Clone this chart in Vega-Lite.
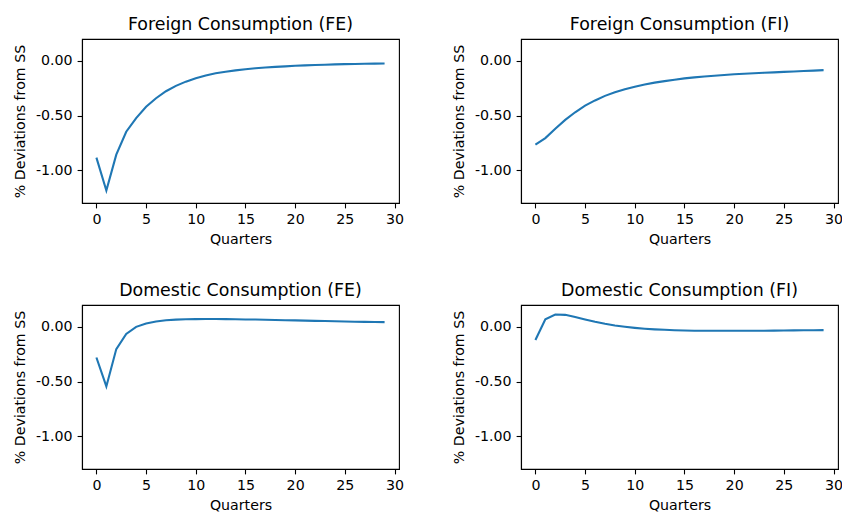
{
  "$schema": "https://vega.github.io/schema/vega-lite/v6.json",
  "background": "white",
  "padding": {"left": 12, "top": 15, "right": 5, "bottom": 5},
  "bounds": "flush",
  "columns": 2,
  "spacing": {"row": 102, "column": 122},
  "data": {"values": [
    {"series": "FFE", "q": 0, "v": -0.885}, {"series": "FFE", "q": 1, "v": -1.186}, {"series": "FFE", "q": 2, "v": -0.858}, {"series": "FFE", "q": 3, "v": -0.648}, {"series": "FFE", "q": 4, "v": -0.523}, {"series": "FFE", "q": 5, "v": -0.42}, {"series": "FFE", "q": 6, "v": -0.342}, {"series": "FFE", "q": 7, "v": -0.278}, {"series": "FFE", "q": 8, "v": -0.229}, {"series": "FFE", "q": 9, "v": -0.19}, {"series": "FFE", "q": 10, "v": -0.159}, {"series": "FFE", "q": 11, "v": -0.133}, {"series": "FFE", "q": 12, "v": -0.114}, {"series": "FFE", "q": 13, "v": -0.099}, {"series": "FFE", "q": 14, "v": -0.087}, {"series": "FFE", "q": 15, "v": -0.077}, {"series": "FFE", "q": 16, "v": -0.068}, {"series": "FFE", "q": 17, "v": -0.061}, {"series": "FFE", "q": 18, "v": -0.055}, {"series": "FFE", "q": 19, "v": -0.05}, {"series": "FFE", "q": 20, "v": -0.045}, {"series": "FFE", "q": 21, "v": -0.041}, {"series": "FFE", "q": 22, "v": -0.038}, {"series": "FFE", "q": 23, "v": -0.035}, {"series": "FFE", "q": 24, "v": -0.032}, {"series": "FFE", "q": 25, "v": -0.03}, {"series": "FFE", "q": 26, "v": -0.028}, {"series": "FFE", "q": 27, "v": -0.026}, {"series": "FFE", "q": 28, "v": -0.025}, {"series": "FFE", "q": 29, "v": -0.024},
    {"series": "FFI", "q": 0, "v": -0.766}, {"series": "FFI", "q": 1, "v": -0.706}, {"series": "FFI", "q": 2, "v": -0.62}, {"series": "FFI", "q": 3, "v": -0.54}, {"series": "FFI", "q": 4, "v": -0.47}, {"series": "FFI", "q": 5, "v": -0.41}, {"series": "FFI", "q": 6, "v": -0.362}, {"series": "FFI", "q": 7, "v": -0.32}, {"series": "FFI", "q": 8, "v": -0.288}, {"series": "FFI", "q": 9, "v": -0.26}, {"series": "FFI", "q": 10, "v": -0.236}, {"series": "FFI", "q": 11, "v": -0.216}, {"series": "FFI", "q": 12, "v": -0.199}, {"series": "FFI", "q": 13, "v": -0.185}, {"series": "FFI", "q": 14, "v": -0.172}, {"series": "FFI", "q": 15, "v": -0.16}, {"series": "FFI", "q": 16, "v": -0.151}, {"series": "FFI", "q": 17, "v": -0.143}, {"series": "FFI", "q": 18, "v": -0.136}, {"series": "FFI", "q": 19, "v": -0.129}, {"series": "FFI", "q": 20, "v": -0.123}, {"series": "FFI", "q": 21, "v": -0.118}, {"series": "FFI", "q": 22, "v": -0.113}, {"series": "FFI", "q": 23, "v": -0.109}, {"series": "FFI", "q": 24, "v": -0.105}, {"series": "FFI", "q": 25, "v": -0.101}, {"series": "FFI", "q": 26, "v": -0.097}, {"series": "FFI", "q": 27, "v": -0.093}, {"series": "FFI", "q": 28, "v": -0.089}, {"series": "FFI", "q": 29, "v": -0.085},
    {"series": "DFE", "q": 0, "v": -0.28}, {"series": "DFE", "q": 1, "v": -0.545}, {"series": "DFE", "q": 2, "v": -0.203}, {"series": "DFE", "q": 3, "v": -0.065}, {"series": "DFE", "q": 4, "v": 0.0}, {"series": "DFE", "q": 5, "v": 0.031}, {"series": "DFE", "q": 6, "v": 0.049}, {"series": "DFE", "q": 7, "v": 0.06}, {"series": "DFE", "q": 8, "v": 0.066}, {"series": "DFE", "q": 9, "v": 0.069}, {"series": "DFE", "q": 10, "v": 0.071}, {"series": "DFE", "q": 11, "v": 0.072}, {"series": "DFE", "q": 12, "v": 0.072}, {"series": "DFE", "q": 13, "v": 0.071}, {"series": "DFE", "q": 14, "v": 0.07}, {"series": "DFE", "q": 15, "v": 0.068}, {"series": "DFE", "q": 16, "v": 0.067}, {"series": "DFE", "q": 17, "v": 0.065}, {"series": "DFE", "q": 18, "v": 0.063}, {"series": "DFE", "q": 19, "v": 0.061}, {"series": "DFE", "q": 20, "v": 0.059}, {"series": "DFE", "q": 21, "v": 0.057}, {"series": "DFE", "q": 22, "v": 0.055}, {"series": "DFE", "q": 23, "v": 0.053}, {"series": "DFE", "q": 24, "v": 0.051}, {"series": "DFE", "q": 25, "v": 0.049}, {"series": "DFE", "q": 26, "v": 0.047}, {"series": "DFE", "q": 27, "v": 0.046}, {"series": "DFE", "q": 28, "v": 0.044}, {"series": "DFE", "q": 29, "v": 0.043},
    {"series": "DFI", "q": 0, "v": -0.12}, {"series": "DFI", "q": 1, "v": 0.07}, {"series": "DFI", "q": 2, "v": 0.113}, {"series": "DFI", "q": 3, "v": 0.11}, {"series": "DFI", "q": 4, "v": 0.09}, {"series": "DFI", "q": 5, "v": 0.067}, {"series": "DFI", "q": 6, "v": 0.046}, {"series": "DFI", "q": 7, "v": 0.028}, {"series": "DFI", "q": 8, "v": 0.013}, {"series": "DFI", "q": 9, "v": 0.001}, {"series": "DFI", "q": 10, "v": -0.009}, {"series": "DFI", "q": 11, "v": -0.017}, {"series": "DFI", "q": 12, "v": -0.023}, {"series": "DFI", "q": 13, "v": -0.027}, {"series": "DFI", "q": 14, "v": -0.031}, {"series": "DFI", "q": 15, "v": -0.033}, {"series": "DFI", "q": 16, "v": -0.035}, {"series": "DFI", "q": 17, "v": -0.036}, {"series": "DFI", "q": 18, "v": -0.036}, {"series": "DFI", "q": 19, "v": -0.036}, {"series": "DFI", "q": 20, "v": -0.036}, {"series": "DFI", "q": 21, "v": -0.036}, {"series": "DFI", "q": 22, "v": -0.035}, {"series": "DFI", "q": 23, "v": -0.035}, {"series": "DFI", "q": 24, "v": -0.034}, {"series": "DFI", "q": 25, "v": -0.033}, {"series": "DFI", "q": 26, "v": -0.032}, {"series": "DFI", "q": 27, "v": -0.031}, {"series": "DFI", "q": 28, "v": -0.031}, {"series": "DFI", "q": 29, "v": -0.03}
  ]},
  "concat": [
    {"title": "Foreign Consumption (FE)", "width": 317, "height": 164,
     "transform": [{"filter": "datum.series === 'FFE'"}],
     "mark": {"type": "line", "color": "#1f77b4", "strokeWidth": 2.1},
     "encoding": {
       "x": {"field": "q", "type": "quantitative", "scale": {"domain": [-1.45, 30.45], "nice": false, "zero": false}, "axis": {"values": [0, 5, 10, 15, 20, 25, 30], "title": "Quarters"}},
       "y": {"field": "v", "type": "quantitative", "scale": {"domain": [-1.3, 0.2], "nice": false, "zero": false}, "axis": {"values": [-1, -0.5, 0], "title": "% Deviations from SS", "labelExpr": "replace(format(datum.value, '.2f'), '\u2212', '-')"}}
     }},
    {"title": "Foreign Consumption (FI)", "width": 317, "height": 164,
     "transform": [{"filter": "datum.series === 'FFI'"}],
     "mark": {"type": "line", "color": "#1f77b4", "strokeWidth": 2.1},
     "encoding": {
       "x": {"field": "q", "type": "quantitative", "scale": {"domain": [-1.45, 30.45], "nice": false, "zero": false}, "axis": {"values": [0, 5, 10, 15, 20, 25, 30], "title": "Quarters"}},
       "y": {"field": "v", "type": "quantitative", "scale": {"domain": [-1.3, 0.2], "nice": false, "zero": false}, "axis": {"values": [-1, -0.5, 0], "title": "% Deviations from SS", "labelExpr": "replace(format(datum.value, '.2f'), '\u2212', '-')"}}
     }},
    {"title": "Domestic Consumption (FE)", "width": 317, "height": 164,
     "transform": [{"filter": "datum.series === 'DFE'"}],
     "mark": {"type": "line", "color": "#1f77b4", "strokeWidth": 2.1},
     "encoding": {
       "x": {"field": "q", "type": "quantitative", "scale": {"domain": [-1.45, 30.45], "nice": false, "zero": false}, "axis": {"values": [0, 5, 10, 15, 20, 25, 30], "title": "Quarters"}},
       "y": {"field": "v", "type": "quantitative", "scale": {"domain": [-1.3, 0.2], "nice": false, "zero": false}, "axis": {"values": [-1, -0.5, 0], "title": "% Deviations from SS", "labelExpr": "replace(format(datum.value, '.2f'), '\u2212', '-')"}}
     }},
    {"title": "Domestic Consumption (FI)", "width": 317, "height": 164,
     "transform": [{"filter": "datum.series === 'DFI'"}],
     "mark": {"type": "line", "color": "#1f77b4", "strokeWidth": 2.1},
     "encoding": {
       "x": {"field": "q", "type": "quantitative", "scale": {"domain": [-1.45, 30.45], "nice": false, "zero": false}, "axis": {"values": [0, 5, 10, 15, 20, 25, 30], "title": "Quarters"}},
       "y": {"field": "v", "type": "quantitative", "scale": {"domain": [-1.3, 0.2], "nice": false, "zero": false}, "axis": {"values": [-1, -0.5, 0], "title": "% Deviations from SS", "labelExpr": "replace(format(datum.value, '.2f'), '\u2212', '-')"}}
     }}
  ],
  "config": {
    "font": "DejaVu Sans",
    "view": {"stroke": "black", "strokeWidth": 1.1},
    "axis": {"grid": false, "domainColor": "black", "domainWidth": 1.1, "tickColor": "black", "tickWidth": 1.1, "tickSize": 4.9, "labelColor": "black", "labelFontSize": 14.2, "labelPadding": 5, "titleColor": "black", "titleFontSize": 14.2, "titleFontWeight": "normal", "titlePadding": 8},
    "axisX": {"titlePadding": 5},
    "title": {"fontSize": 17.4, "fontWeight": "normal", "color": "black", "offset": 6}
  }
}
